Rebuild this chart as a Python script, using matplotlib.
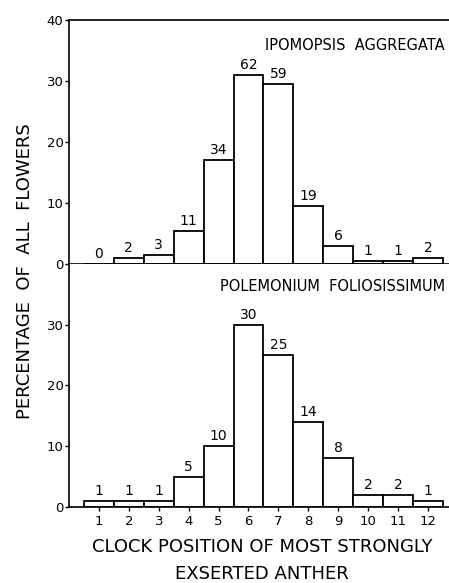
import numpy as np
import matplotlib.pyplot as plt

# clock positions and flower counts
positions = np.arange(1, 13)
ipomopsis_counts = [0, 2, 3, 11, 34, 62, 59, 19, 6, 1, 1, 2]
ipomopsis_pct = [0, 1.0, 1.5, 5.5, 17, 31, 29.5, 9.5, 3, 0.5, 0.5, 1.0]
polemonium_counts = [1, 1, 1, 5, 10, 30, 25, 14, 8, 2, 2, 1]
polemonium_pct = [1, 1, 1, 5, 10, 30, 25, 14, 8, 2, 2, 1]
tick_labels = [str(p) for p in positions]

plt.rcParams['font.family'] = 'DejaVu Sans'

fig = plt.figure(figsize=(4.49, 5.83), dpi=100)
ax1 = fig.add_axes([0.1537, 0.547, 0.846, 0.4185])
ax2 = fig.add_axes([0.1537, 0.1304, 0.846, 0.417])


def draw_panel(ax, pct, counts, title, yticks, top_spine, title_y):
    ax.bar(positions, pct, width=1.0, color='white', edgecolor='black',
           linewidth=1.3, zorder=2)
    for x, h, c in zip(positions, pct, counts):
        ax.text(x, h + 0.5, str(c), ha='center', va='bottom', fontsize=10)
    ax.set_xlim(0, 12.7)
    ax.set_ylim(0, 40)
    ax.set_xticks(positions)
    ax.set_yticks(yticks)
    ax.tick_params(axis='y', length=3, width=1, pad=1, labelsize=9.5)
    ax.tick_params(axis='x', length=3, width=1, direction='out', pad=3,
                   labelsize=9.5)
    ax.spines['right'].set_visible(False)
    ax.spines['top'].set_visible(top_spine)
    for s in ax.spines.values():
        s.set_linewidth(1.2)
    ax.text(0.99, title_y, title, transform=ax.transAxes,
            ha='right', va='center', fontsize=10.5)


draw_panel(ax1, ipomopsis_pct, ipomopsis_counts, 'IPOMOPSIS  AGGREGATA',
           [0, 10, 20, 30, 40], True, 0.895)
ax1.set_xticklabels([])

draw_panel(ax2, polemonium_pct, polemonium_counts, 'POLEMONIUM  FOLIOSISSIMUM',
           [0, 10, 20, 30], False, 0.905)
ax2.set_xticklabels(tick_labels)

fig.text(262 / 449, 1 - 547 / 583, 'CLOCK POSITION OF MOST STRONGLY',
         ha='center', va='center', fontsize=13)
fig.text(262 / 449, 1 - 574 / 583, 'EXSERTED ANTHER',
         ha='center', va='center', fontsize=13)

fig.text(0.055, 0.535, 'PERCENTAGE  OF  ALL  FLOWERS', rotation=90,
         ha='center', va='center', fontsize=13)

fig.savefig('out.png', dpi=100)
